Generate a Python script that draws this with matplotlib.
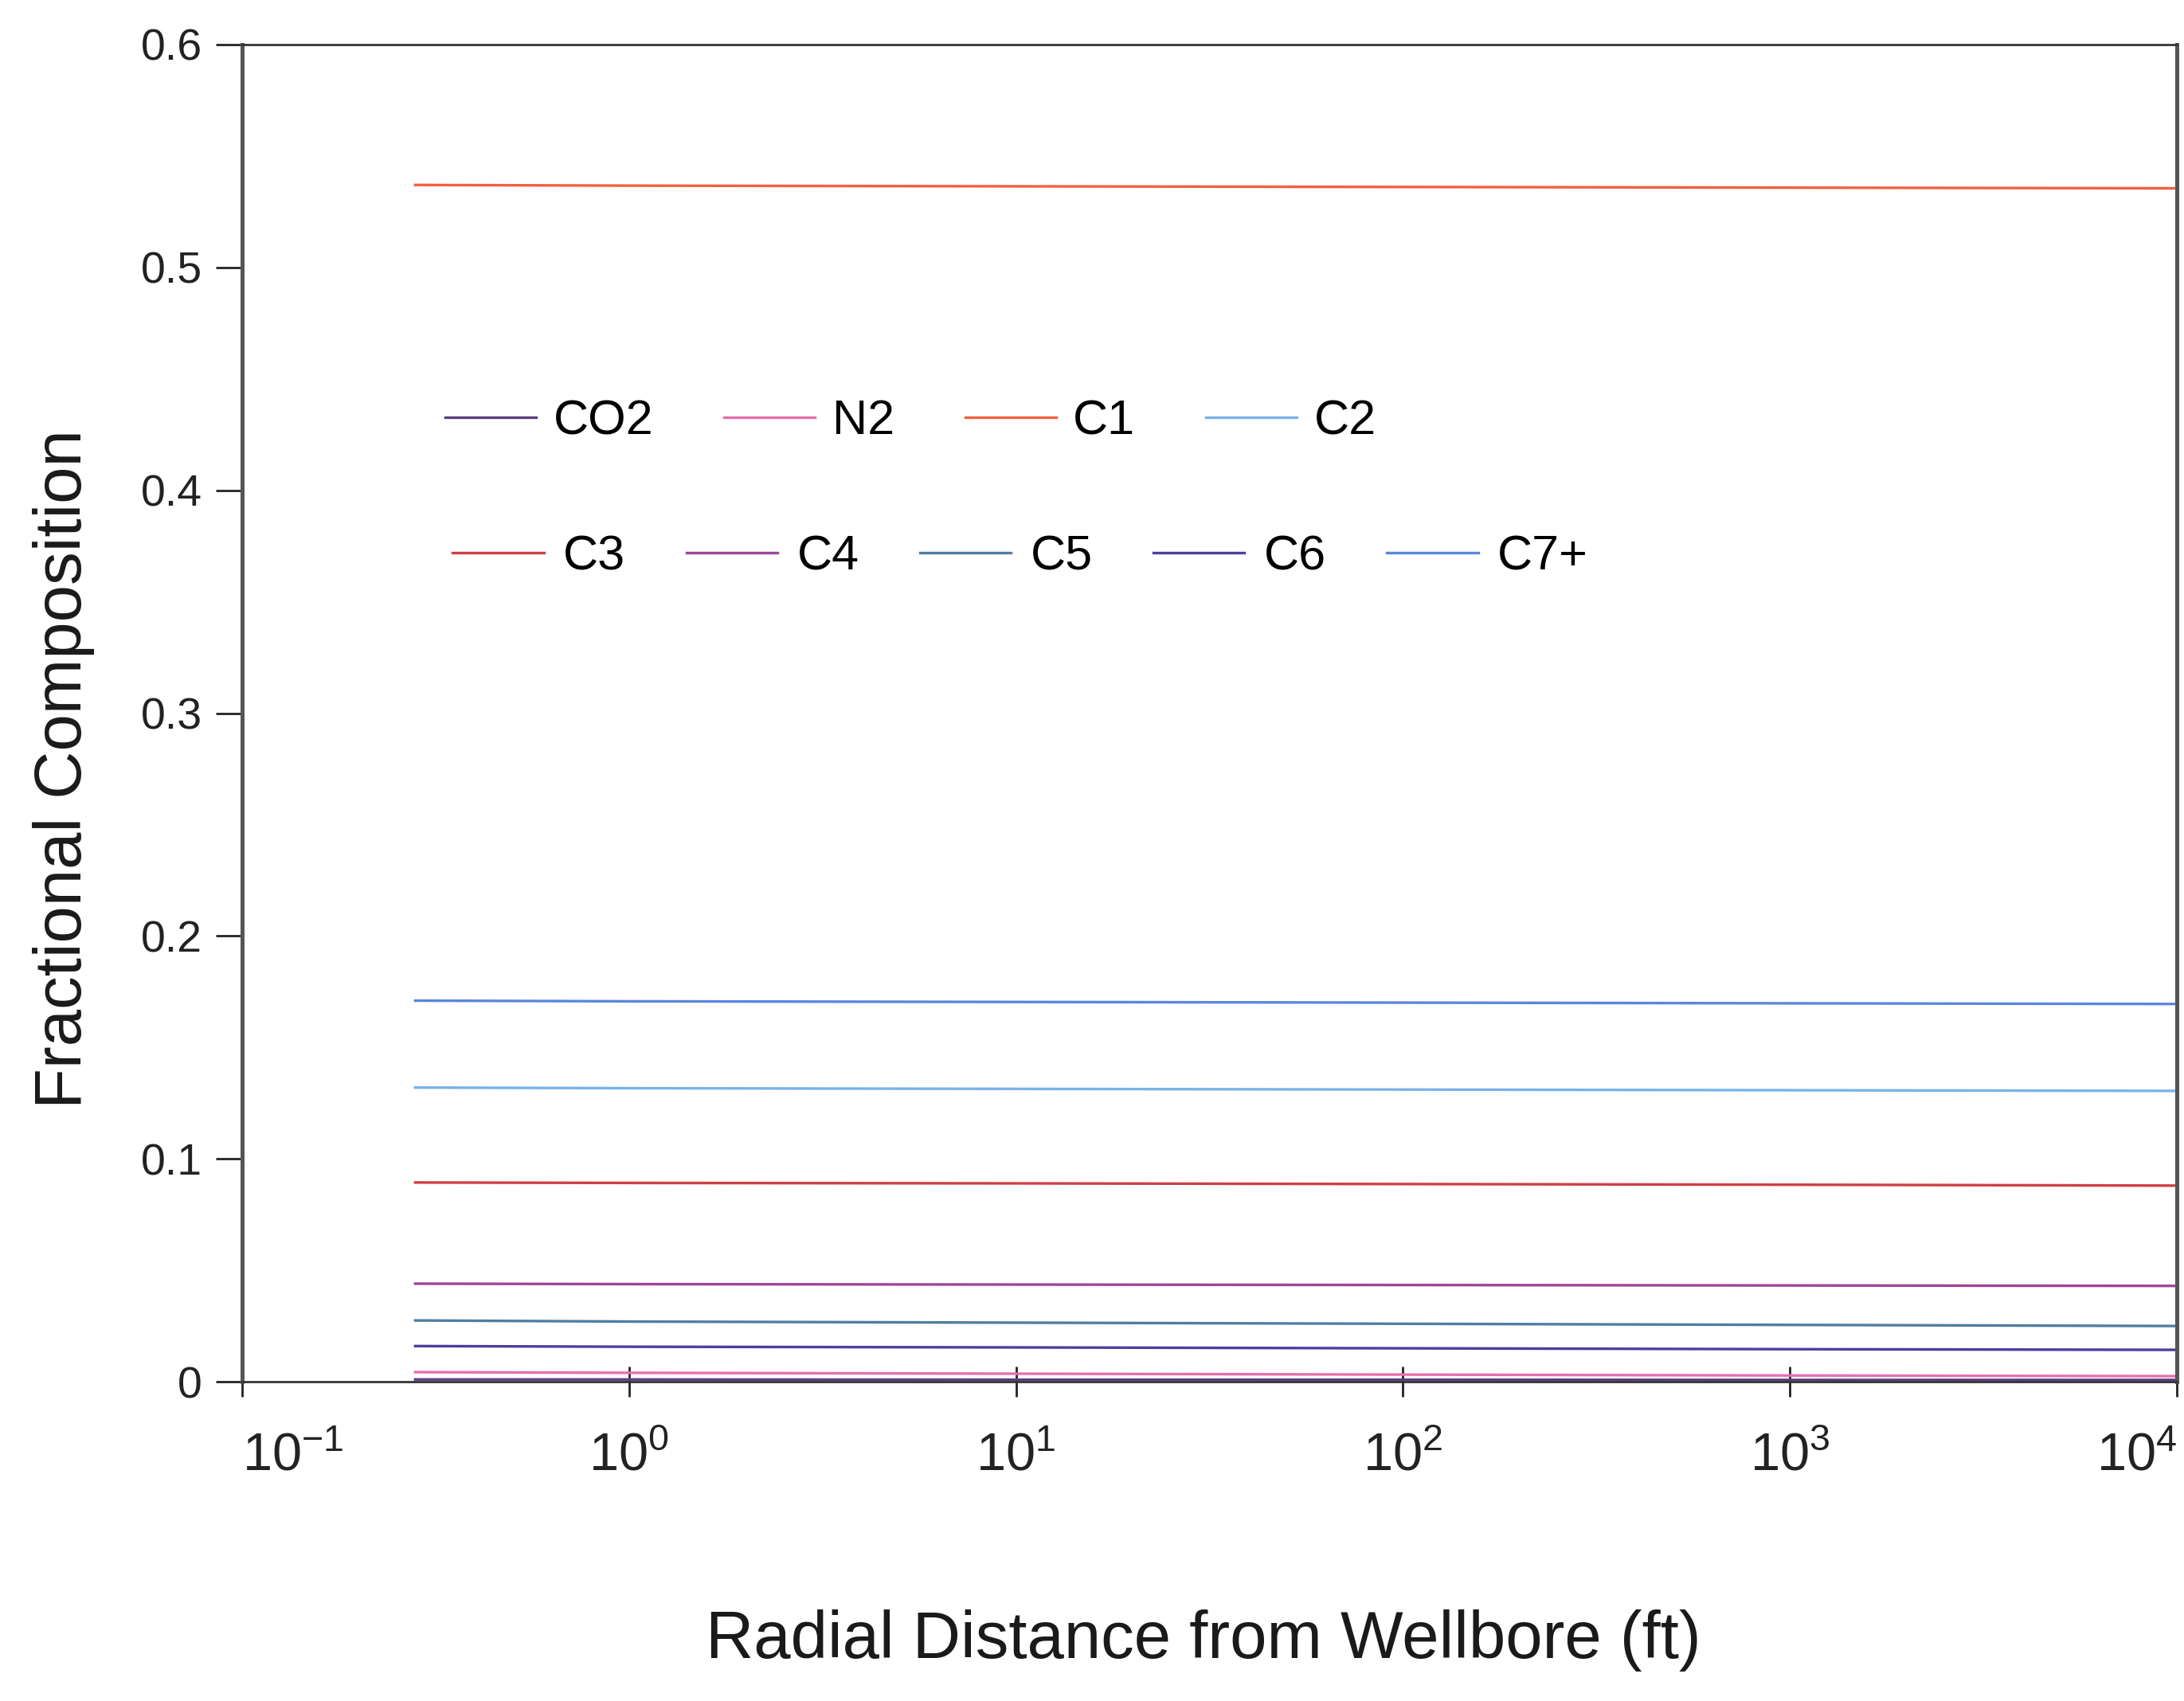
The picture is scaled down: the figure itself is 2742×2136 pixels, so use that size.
import numpy as np
import matplotlib
matplotlib.use("Agg")
import matplotlib.pyplot as plt

plt.rcParams['font.family'] = ['Liberation Sans', 'DejaVu Sans']
plt.rcParams['mathtext.fontset'] = 'custom'
plt.rcParams['mathtext.rm'] = 'Liberation Sans'
plt.rcParams['mathtext.it'] = 'Liberation Sans'

radius = [0.28, 1, 10, 100, 1000, 10000]

# fractional composition of each component vs radius
co2 = [0.0010, 0.0010, 0.0009, 0.0009, 0.0008, 0.0008]
n2 = [0.0043, 0.0040, 0.0036, 0.0032, 0.0028, 0.0025]
c1 = [0.5370, 0.5367, 0.5364, 0.5361, 0.5358, 0.5355]
c2 = [0.1320, 0.1317, 0.1314, 0.1311, 0.1308, 0.1305]
c3 = [0.0894, 0.0892, 0.0890, 0.0887, 0.0884, 0.0880]
c4 = [0.0440, 0.0438, 0.0436, 0.0434, 0.0432, 0.0430]
c5 = [0.0275, 0.0270, 0.0265, 0.0260, 0.0255, 0.0250]
c6 = [0.0160, 0.0157, 0.0154, 0.0150, 0.0146, 0.0143]
c7p = [0.1710, 0.1707, 0.1704, 0.1701, 0.1698, 0.1695]

names_row1 = ["CO2", "N2", "C1", "C2"]
names_row2 = ["C3", "C4", "C5", "C6", "C7+"]
series = {"CO2": co2, "N2": n2, "C1": c1, "C2": c2, "C3": c3,
          "C4": c4, "C5": c5, "C6": c6, "C7+": c7p}
colors = {"CO2": "#5b3f7e", "N2": "#e66fb0", "C1": "#f2603f", "C2": "#78b4e6",
          "C3": "#cf3f45", "C4": "#a0449a", "C5": "#4f7ea3", "C6": "#4b3f9e",
          "C7+": "#5a86dc"}

xtick_vals = [0.1, 1, 10, 100, 1000, 10000]
xtick_labels = [r'$10^{-1}$', r'$10^{0}$', r'$10^{1}$', r'$10^{2}$', r'$10^{3}$', r'$10^{4}$']

fig = plt.figure(figsize=(13.71, 10.68), dpi=200)
ax = fig.add_axes([0.1109, 0.1877, 0.8858, 0.7861])

lines = {}
for name in names_row1 + names_row2:
    ln, = ax.plot(radius, series[name], color=colors[name], lw=1.2, label=name)
    lines[name] = ln

ax.set_xscale('log')
ax.set_xlim(0.1, 10000)
ax.set_ylim(0, 0.6)
ax.set_xticks(xtick_vals)
ax.set_xticklabels(xtick_labels)
ax.xaxis.set_minor_locator(matplotlib.ticker.NullLocator())
ax.set_yticks([0, 0.1, 0.2, 0.3, 0.4, 0.5, 0.6])
ax.set_yticklabels(["0", "0.1", "0.2", "0.3", "0.4", "0.5", "0.6"])

ax.tick_params(axis='y', direction='out', length=12, width=1.0, pad=6, labelsize=20, colors='#222222')
ax.tick_params(axis='x', direction='inout', length=14, width=1.0, pad=16, labelsize=24, colors='#222222')

# first label sits a bit right of its tick, last one ends at the frame
xl = ax.get_xticklabels()
xl[0].set_horizontalalignment('left')
xl[0].set_x(0.1)
xl[-1].set_horizontalalignment('right')

for s in ['left', 'right']:
    ax.spines[s].set_linewidth(1.8)
    ax.spines[s].set_color('#555555')
for s in ['top', 'bottom']:
    ax.spines[s].set_linewidth(1.0)
    ax.spines[s].set_color('#333333')

ax.set_xlabel("Radial Distance from Wellbore (ft)", fontsize=30, color='#1a1a1a')
ax.xaxis.set_label_coords(0.497, -0.17)
ax.set_ylabel("Fractional Composition", fontsize=30, color='#1a1a1a')
ax.yaxis.set_label_coords(-0.076, 0.458)

leg1 = ax.legend([lines[n] for n in names_row1], names_row1, ncol=4, loc='center left',
                 bbox_to_anchor=(0.105, 0.7177), frameon=False, fontsize=22,
                 handlelength=1.87, handletextpad=0.35, columnspacing=1.45,
                 borderpad=0, borderaxespad=0)
ax.add_artist(leg1)
ax.legend([lines[n] for n in names_row2], names_row2, ncol=5, loc='center left',
          bbox_to_anchor=(0.1088, 0.6164), frameon=False, fontsize=22,
          handlelength=1.87, handletextpad=0.4, columnspacing=1.25,
          borderpad=0, borderaxespad=0)

fig.savefig("out.png", dpi=200)
